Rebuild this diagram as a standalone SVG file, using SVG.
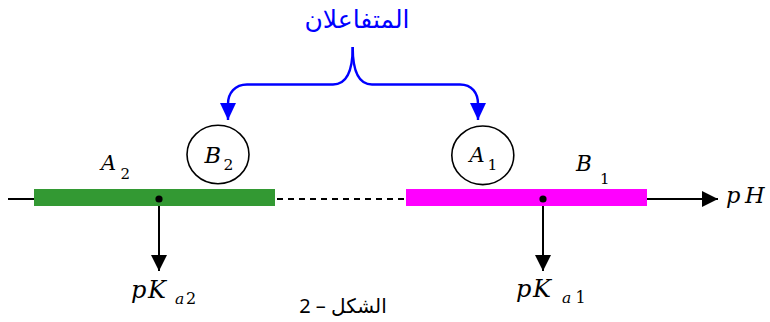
<svg xmlns="http://www.w3.org/2000/svg" width="770" height="322" viewBox="0 0 770 322">
  <style>
    .blk { stroke: #000; stroke-width: 2; fill: none; }
    .ring { stroke: #000; stroke-width: 1.6; fill: #fff; }
    .brace { stroke: #0000ff; stroke-width: 2.4; fill: none; }
  </style>
  <defs>
    <marker id="headBlack" markerUnits="userSpaceOnUse" markerWidth="16" markerHeight="16" viewBox="0 0 16 16" refX="16" refY="8" orient="auto">
      <path d="M0,0 L16,8 L0,16 Z" fill="#000"/>
    </marker>
    <marker id="headBlue" markerUnits="userSpaceOnUse" markerWidth="17" markerHeight="16" viewBox="0 0 17 16" refX="17" refY="8" orient="auto">
      <path d="M0,0 L17,8 L0,16 Z" fill="#0000ff"/>
    </marker>
  </defs>

  <!-- title -->
  <g id="title">
    <text font-family="DejaVu Sans, sans-serif" x="357" y="28" font-size="25" fill="#0000ff" text-anchor="middle" direction="rtl">المتفاعلان</text>
  </g>

  <!-- connectors -->
  <g id="connectors">
    <path class="brace" d="M352.7,47 C352.7,72 346,84.5 333,84.5 L247,84.5 C235,84.5 228,93 228,104 L228,120" marker-end="url(#headBlue)"/>
    <path class="brace" d="M352.7,47 C352.7,72 359,84.5 372,84.5 L460,84.5 C472,84.5 478,93 478,104 L478,120" marker-end="url(#headBlue)"/>
    <line class="blk" x1="8" y1="199" x2="36" y2="199"/>
    <line class="blk" x1="277" y1="199" x2="405" y2="199" stroke-dasharray="6 5"/>
    <line class="blk" x1="645" y1="199" x2="718" y2="199" marker-end="url(#headBlack)"/>
    <line class="blk" x1="159" y1="199" x2="159" y2="271" marker-end="url(#headBlack)"/>
    <line class="blk" x1="543" y1="199" x2="543" y2="271" marker-end="url(#headBlack)"/>
  </g>

  <!-- math labels: italic serif letters, upright digits -->
  <g id="zoneA2">
    <rect x="34" y="189" width="241" height="17" fill="#339933"/>
    <circle cx="159" cy="199" r="3.6" fill="#000"/>
    <text font-family="DejaVu Serif" font-style="italic" x="101" y="170" font-size="21">A</text>
    <text font-family="DejaVu Serif" x="120.5" y="179" font-size="15">2</text>
  </g>
  <g id="zoneB1">
    <rect x="406" y="189" width="241" height="17" fill="#ff00ff"/>
    <circle cx="543" cy="199" r="3.6" fill="#000"/>
    <text font-family="DejaVu Serif" font-style="italic" x="576" y="171" font-size="21.5">B</text>
    <text font-family="DejaVu Serif" x="600" y="183.5" font-size="15">1</text>
  </g>
  <g id="nodeB2">
    <ellipse class="ring" cx="218" cy="154.5" rx="31" ry="29.2"/>
    <text font-family="DejaVu Serif" font-style="italic" x="204.5" y="163" font-size="22.5">B</text>
    <text font-family="DejaVu Serif" x="223.5" y="169.5" font-size="15.5">2</text>
  </g>
  <g id="nodeA1">
    <ellipse class="ring" cx="482.8" cy="155.3" rx="31" ry="29.3"/>
    <text font-family="DejaVu Serif" font-style="italic" x="469.5" y="161.5" font-size="21">A</text>
    <text font-family="DejaVu Serif" x="487.5" y="169.5" font-size="15.5">1</text>
  </g>
  <g id="pH">
    <text font-family="DejaVu Serif" font-style="italic" x="726" y="203" font-size="22.5">p<tspan x="745">H</tspan></text>
  </g>
  <g id="pKa2">
    <text font-family="DejaVu Serif" font-style="italic" x="131" y="298" font-size="24">p<tspan x="148">K</tspan></text>
    <text font-family="DejaVu Serif" font-style="italic" x="175" y="304" font-size="15.5">a</text>
    <text font-family="DejaVu Serif" x="186" y="304" font-size="16">2</text>
  </g>
  <g id="pKa1">
    <text font-family="DejaVu Serif" font-style="italic" x="516" y="297" font-size="24">p<tspan x="533">K</tspan></text>
    <text font-family="DejaVu Serif" font-style="italic" x="562" y="303" font-size="15.5">a</text>
    <text font-family="DejaVu Serif" x="575.5" y="303" font-size="16">1</text>
  </g>

  <!-- caption -->
  <g id="caption">
    <text font-family="Noto Sans, DejaVu Sans, sans-serif" x="343" y="313" font-size="20" fill="#000" text-anchor="middle" direction="rtl">الشكل – 2</text>
  </g>
</svg>
